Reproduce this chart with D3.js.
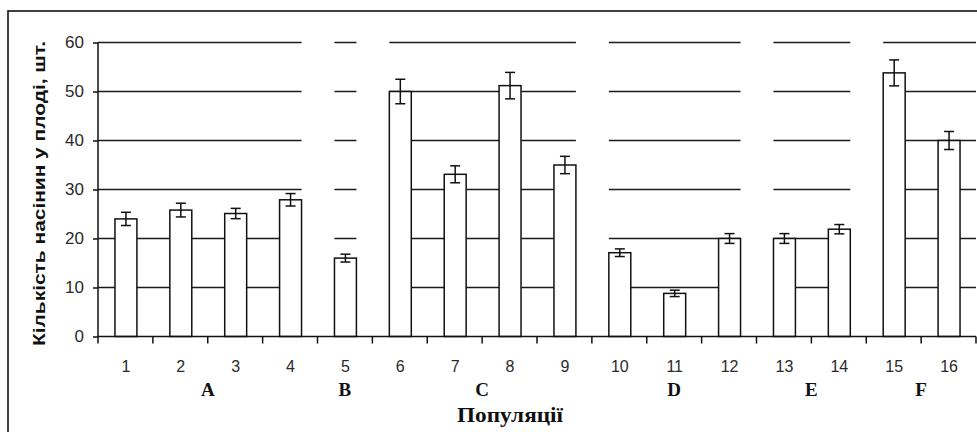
<!DOCTYPE html>
<html>
<head>
<meta charset="utf-8">
<script src="https://cdn.jsdelivr.net/npm/d3@7"></script>
<style>
  html, body { margin: 0; padding: 0; background: #fff; }
  svg { display: block; }
</style>
</head>
<body>
<svg id="chart" width="977" height="432"></svg>
<script>
// ---- data ----
const categories = ["1","2","3","4","5","6","7","8","9","10","11","12","13","14","15","16"];
const values = [24, 25.8, 25.1, 27.9, 16, 50, 33.1, 51.2, 35, 17.1, 8.8, 20, 20, 21.9, 53.8, 40];
const errors = [1.35, 1.4, 1.05, 1.27, 0.8, 2.5, 1.73, 2.7, 1.77, 0.78, 0.65, 1.0, 1.0, 0.95, 2.65, 1.84];
const groupOf = ["A","A","A","A","B","C","C","C","C","D","D","D","E","E","F","F"];
const groupNames = ["A","B","C","D","E","F"];
const yTicks = [0, 10, 20, 30, 40, 50, 60];
const yTitle = "Кількість насінин у плоді, шт.";
const xTitle = "Популяції";

(function () {
// ---- layout ----
const svg = d3.select("#chart");
const pLeft = 98, pRight = 976, pTop = 42.5, pBottom = 336.5;

const x = d3.scaleBand().domain(categories).range([pLeft, pRight]).paddingInner(0).paddingOuter(0);
const y = d3.scaleLinear().domain([0, 60]).range([pBottom, pTop]);
const barW = x.bandwidth() * 0.4;
const barLeft = c => x(c) + (x.bandwidth() - barW) / 2 + 0.5;

// outer frame
svg.append("rect").attr("x", 8).attr("y", 11).attr("width", 1000).attr("height", 500)
  .attr("fill", "none").attr("stroke", "#111").attr("stroke-width", 1.6);

// gridlines: one segment per group
const grid = svg.append("g");
groupNames.forEach((g, gi) => {
  const members = categories.filter((c, i) => groupOf[i] === g);
  const first = members[0], last = members[members.length - 1];
  const x0 = gi === 0 ? pLeft : barLeft(first);
  const x1 = gi === groupNames.length - 1 ? pRight : barLeft(last) + barW;
  yTicks.filter(t => t > 0).forEach(t => {
    grid.append("line")
      .attr("x1", x0).attr("x2", x1)
      .attr("y1", y(t)).attr("y2", y(t))
      .attr("stroke", "#1a1a1a").attr("stroke-width", 1.5);
  });
});

// bars
const data = categories.map((c, i) => ({c, v: values[i], e: errors[i]}));
svg.append("g").selectAll("rect").data(data).join("rect")
  .attr("x", d => barLeft(d.c))
  .attr("y", d => y(d.v))
  .attr("width", barW)
  .attr("height", d => y(0) - y(d.v))
  .attr("fill", "#fff").attr("stroke", "#111").attr("stroke-width", 1.5);

// error bars
const eb = svg.append("g").attr("stroke", "#111").attr("stroke-width", 1.5);
data.forEach(d => {
  const cx = barLeft(d.c) + barW / 2;
  eb.append("line").attr("x1", cx).attr("x2", cx).attr("y1", y(d.v + d.e)).attr("y2", y(d.v - d.e));
  [d.v + d.e, d.v - d.e].forEach(v => {
    eb.append("line").attr("x1", cx - 5).attr("x2", cx + 5).attr("y1", y(v)).attr("y2", y(v));
  });
});

// y axis
const yAxis = svg.append("g").attr("transform", `translate(${pLeft},0)`)
  .call(d3.axisLeft(y).tickValues(yTicks).tickSize(5).tickPadding(9).tickFormat(d3.format("d")));
yAxis.select(".domain").attr("stroke", "#111").attr("stroke-width", 1.5).attr("d", `M0,${pBottom}V${pTop}`);
yAxis.selectAll(".tick line").attr("stroke", "#111").attr("stroke-width", 1.5);
yAxis.selectAll(".tick text").attr("font-family", "'Liberation Sans', Arial, sans-serif")
  .attr("font-size", 17).attr("fill", "#2a2a2a");

// x axis (ticks at band boundaries)
const boundaries = categories.map(c => x(c)).concat([pRight]);
const xg = svg.append("g");
xg.append("line").attr("x1", pLeft).attr("x2", pRight).attr("y1", pBottom).attr("y2", pBottom)
  .attr("stroke", "#111").attr("stroke-width", 1.5);
xg.selectAll("line.tk").data(boundaries).join("line").attr("class", "tk")
  .attr("x1", d => d).attr("x2", d => d).attr("y1", pBottom).attr("y2", pBottom + 7)
  .attr("stroke", "#111").attr("stroke-width", 1.5);
xg.selectAll("text").data(categories).join("text")
  .attr("x", d => x(d) + x.bandwidth() / 2 + 0.5)
  .attr("y", 372)
  .attr("text-anchor", "middle")
  .attr("font-family", "'Liberation Sans', Arial, sans-serif")
  .attr("font-size", 16).attr("fill", "#2a2a2a")
  .text(d => d);

// group labels
svg.append("g").selectAll("text").data(groupNames).join("text")
  .attr("x", g => {
    const m = categories.filter((c, i) => groupOf[i] === g);
    return (x(m[0]) + x(m[m.length - 1]) + x.bandwidth()) / 2;
  })
  .attr("y", 396)
  .attr("text-anchor", "middle")
  .attr("font-family", "'Liberation Serif', 'Times New Roman', serif")
  .attr("font-weight", "bold").attr("font-size", 19).attr("fill", "#111")
  .text(g => g);

// x title
svg.append("text").attr("x", 510).attr("y", 422).attr("text-anchor", "middle")
  .attr("font-family", "'Liberation Serif', 'Times New Roman', serif")
  .attr("font-weight", "bold").attr("font-size", 20).attr("fill", "#111")
  .attr("textLength", 106).attr("lengthAdjust", "spacingAndGlyphs")
  .text(xTitle);

// y title
svg.append("text")
  .attr("transform", `translate(45,${(pBottom + pTop) / 2 + 4}) rotate(-90)`)
  .attr("text-anchor", "middle")
  .attr("font-family", "'Liberation Sans', Arial, sans-serif")
  .attr("font-weight", "bold").attr("font-size", 16).attr("fill", "#111")
  .attr("textLength", 305).attr("lengthAdjust", "spacingAndGlyphs")
  .text(yTitle);
})();
</script>
</body>
</html>
